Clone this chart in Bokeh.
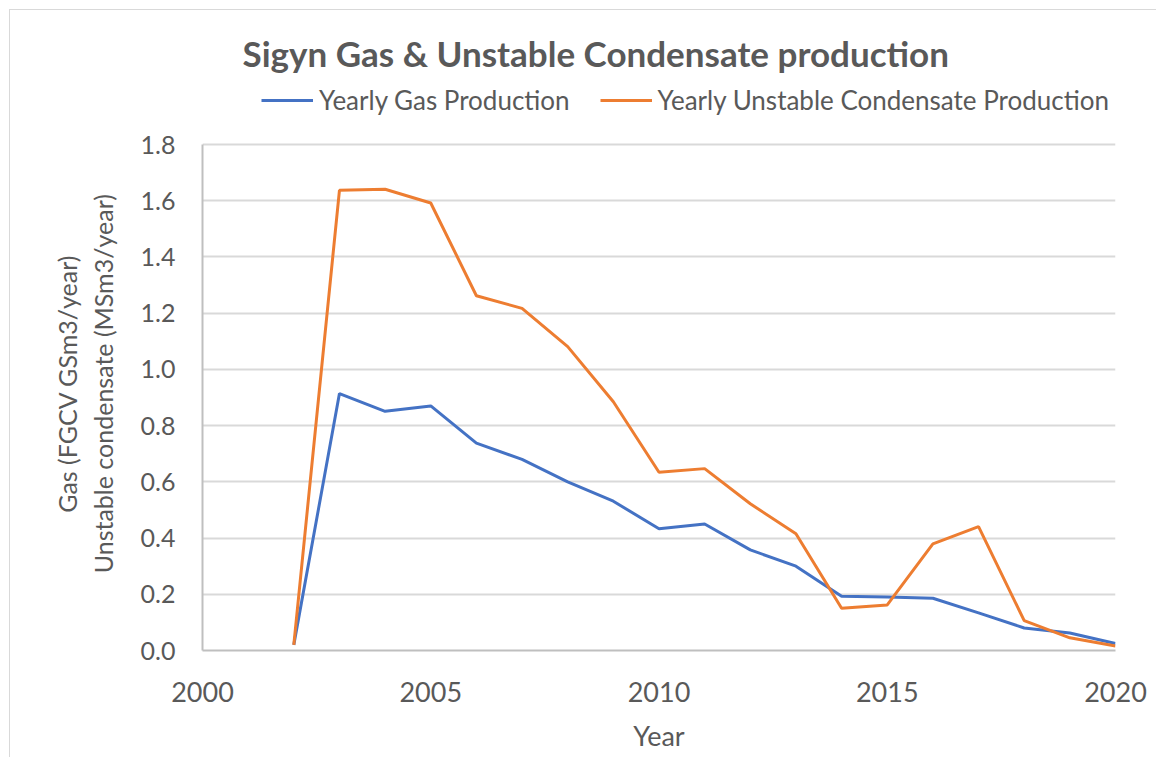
from bokeh.plotting import figure
from bokeh.models import Legend, LegendItem, FixedTicker, PrintfTickFormatter, Range1d
from bokeh.embed import file_html
from bokeh.resources import INLINE

# ---- data ----
years = [2002, 2003, 2004, 2005, 2006, 2007, 2008, 2009, 2010, 2011,
         2012, 2013, 2014, 2015, 2016, 2017, 2018, 2019, 2020]
gas = [0.02, 0.914, 0.851, 0.870, 0.738, 0.680, 0.600, 0.531, 0.433, 0.450,
       0.358, 0.300, 0.193, 0.190, 0.186, 0.134, 0.080, 0.062, 0.025]
condensate = [0.02, 1.637, 1.641, 1.592, 1.262, 1.217, 1.081, 0.885, 0.634, 0.647,
              0.522, 0.415, 0.150, 0.162, 0.379, 0.441, 0.106, 0.045, 0.016]
x_ticks = [2000, 2005, 2010, 2015, 2020]
y_ticks = [0.0, 0.2, 0.4, 0.6, 0.8, 1.0, 1.2, 1.4, 1.6, 1.8]
series_names = ["Yearly Gas Production", "Yearly Unstable Condensate Production"]
title_text = "Sigyn Gas & Unstable Condensate production"
x_label = "Year"
y_label_lines = ["Gas (FGCV GSm3/year)", "Unstable condensate (MSm3/year)"]

FONT = "Lato"
TXT = "#595959"
BLUE = "#4472C4"
ORANGE = "#ED7D31"

# layout (pixels): the frame is extended upward so the legend can live inside it;
# the value axis itself stops at 1.8 through its bounds.
B_LEFT, B_RIGHT, B_TOP, B_BOTTOM = 192, 42, 68, 108
W = 1147
AXIS_PX = 506          # pixel height of the 0..1.8 part
FRAME_H = 572
H = B_TOP + FRAME_H + B_BOTTOM
Y_MAX = y_ticks[-1]
y_end = Y_MAX * FRAME_H / AXIS_PX

p = figure(width=W, height=H,
           x_range=Range1d(x_ticks[0], x_ticks[-1]), y_range=Range1d(0, y_end),
           output_backend="svg", toolbar_location=None,
           min_border_left=B_LEFT, min_border_right=B_RIGHT,
           min_border_top=B_TOP, min_border_bottom=B_BOTTOM)

p.styles = {"border-left": "1px solid #d9d9d9", "border-top": "1px solid #d9d9d9",
            "margin-left": "9px", "margin-top": "9px", "margin-bottom": "-12px"}

p.outline_line_color = None
p.background_fill_color = "white"
p.border_fill_color = "white"

r_gas = p.line(years, gas, line_color=BLUE, line_width=3)
r_cond = p.line(years, condensate, line_color=ORANGE, line_width=3)

# title
p.title.text = title_text
p.title.align = "left"
p.title.offset = 40
p.title.standoff = 10
p.title.text_font = FONT
p.title.text_font_size = "35px"
p.title.text_font_style = "bold"
p.title.text_color = TXT

# axes
xa = p.xaxis[0]
xa.ticker = FixedTicker(ticks=x_ticks)
xa.axis_label = x_label
xa.axis_label_text_font = FONT
xa.axis_label_text_font_size = "27px"
xa.axis_label_text_font_style = "normal"
xa.axis_label_text_color = TXT
xa.axis_label_standoff = 14
xa.major_label_text_font = FONT
xa.major_label_text_font_size = "27px"
xa.major_label_text_color = TXT
xa.major_label_standoff = 25
xa.major_tick_line_color = None
xa.minor_tick_line_color = None
xa.axis_line_color = "#bfbfbf"
xa.axis_line_width = 2

# the label sits a little below the frame centre in the reference: pad each line's end
pad = "\u00a0" * 6
ya = p.yaxis[0]
ya.ticker = FixedTicker(ticks=y_ticks)
ya.bounds = (0, Y_MAX)
ya.formatter = PrintfTickFormatter(format="%.1f")
ya.axis_label = "\n".join(line + pad for line in y_label_lines)
ya.axis_label_text_font = FONT
ya.axis_label_text_font_size = "25px"
ya.axis_label_text_font_style = "normal"
ya.axis_label_text_color = TXT
ya.axis_label_standoff = 20
ya.major_label_text_font = FONT
ya.major_label_text_font_size = "25px"
ya.major_label_text_color = TXT
ya.major_label_standoff = 21
ya.major_tick_line_color = None
ya.minor_tick_line_color = None
ya.axis_line_color = "#bfbfbf"
ya.axis_line_width = 2

p.xgrid.grid_line_color = None
p.ygrid.grid_line_color = "#d9d9d9"
p.ygrid.grid_line_width = 2

legend = Legend(items=[LegendItem(label=series_names[0], renderers=[r_gas]),
                       LegendItem(label=series_names[1], renderers=[r_cond])],
                orientation="horizontal", location=(59, 534))
legend.label_text_font = FONT
legend.label_text_font_size = "26px"
legend.label_text_color = TXT
legend.glyph_width = 52
legend.label_standoff = 6
legend.spacing = 30
legend.padding = 0
legend.margin = 0
legend.border_line_color = None
legend.background_fill_alpha = 0
p.add_layout(legend, "center")

open("out.html", "w").write(file_html(p, INLINE))
